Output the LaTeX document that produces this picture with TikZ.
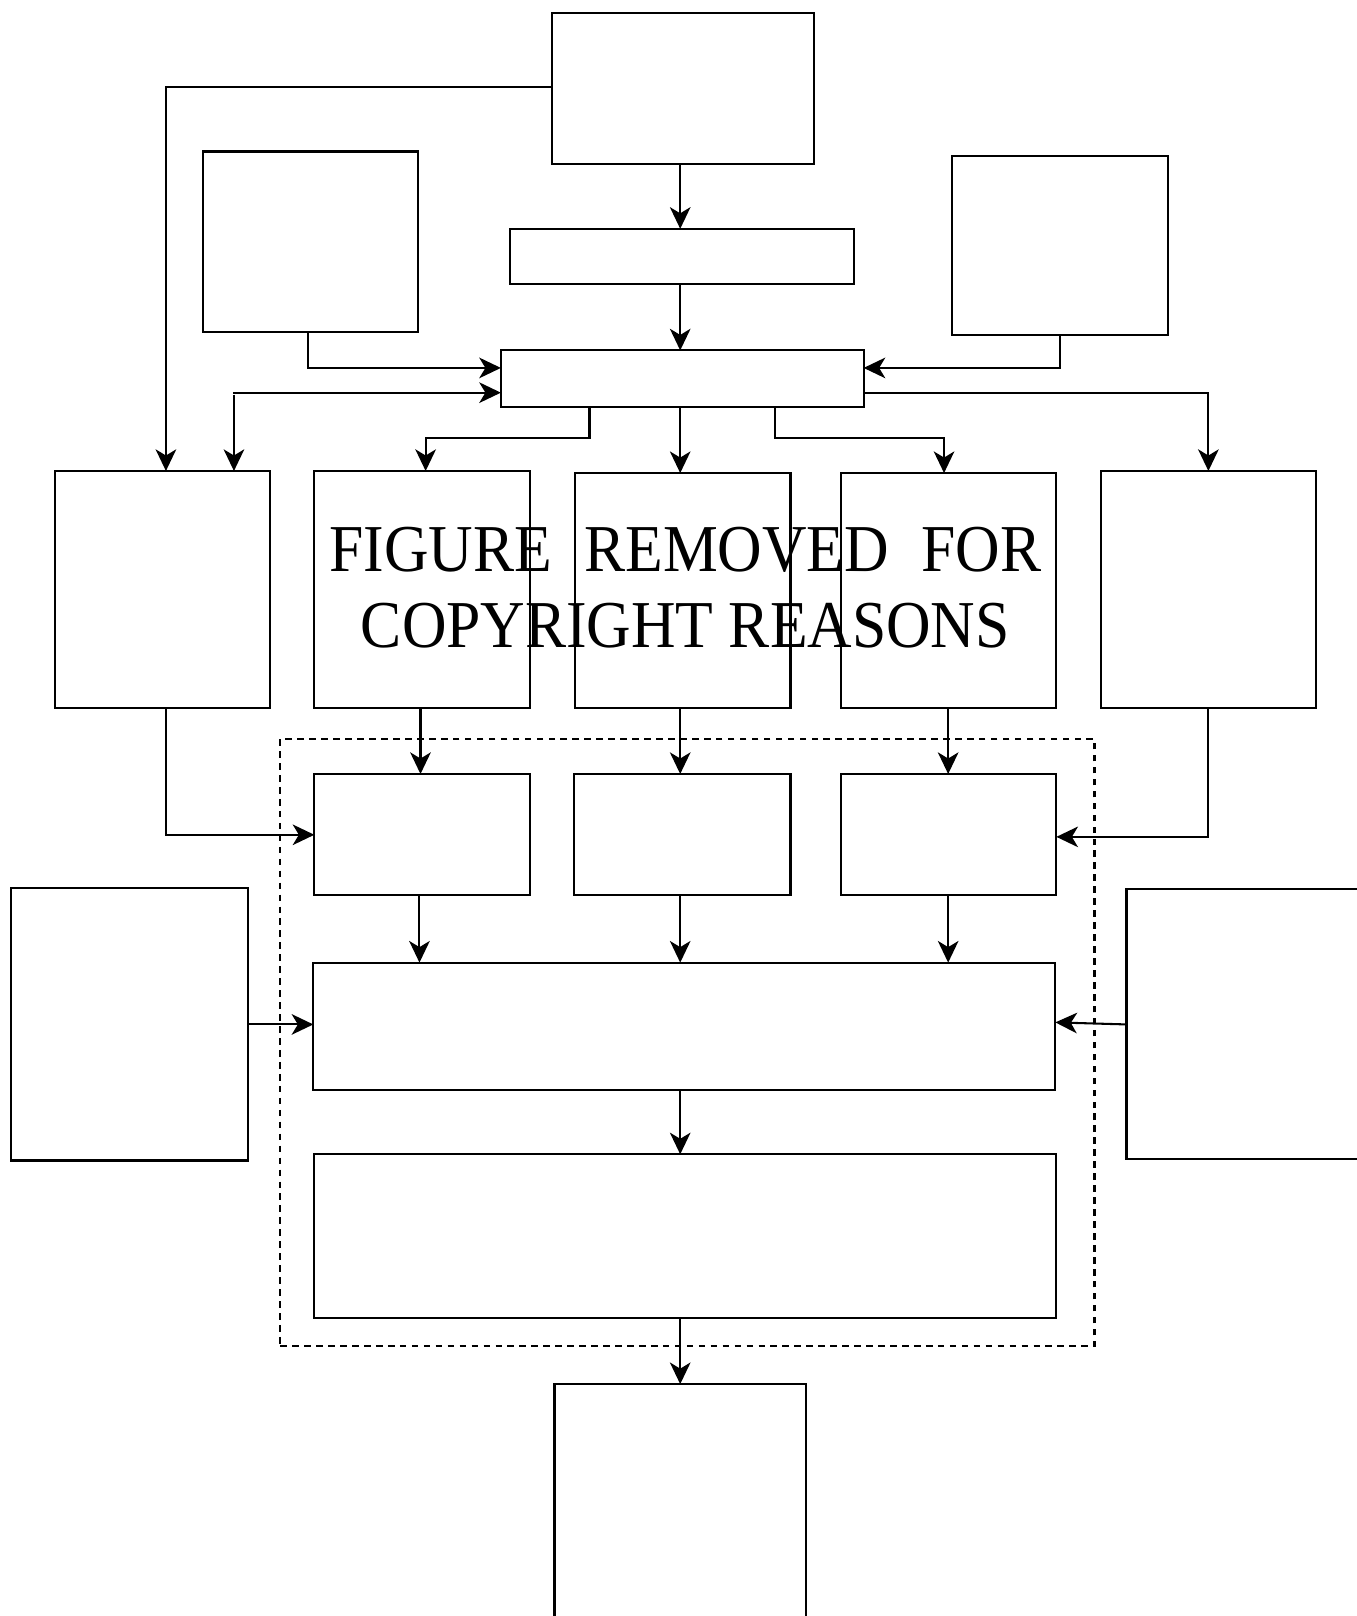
\documentclass[tikz,border=0pt]{standalone}
\usepackage{fontspec}
\usepackage{graphicx}
\setmainfont{Liberation Serif}
\usetikzlibrary{arrows.meta,calc}
\tikzset{
  box/.style={draw, line width=1pt, inner sep=0pt, outer sep=0pt},
  grpbox/.style={draw, line width=1pt, inner sep=0pt, outer sep=0pt, dash pattern=on 3.2pt off 2.6pt},
  conn/.style={line width=1pt},
  arr/.style={line width=1pt, -{Stealth[length=10.5pt,width=10pt,inset=3pt]}},
  bigtext/.style={font=\fontsize{32.5pt}{36pt}\selectfont, inner sep=0pt, anchor=base}
}
\newcommand\mybox[6][box]{\node[#1, minimum width={(#4-#2)*0.5pt}, minimum height={(#5-#3)*0.5pt}] (#6) at ({(#2+#4)/2},{(#3+#5)/2}) {};}
\begin{document}
\begin{tikzpicture}[x=0.5pt,y=-0.5pt]
\useasboundingbox (0,0) rectangle (1316,1568);
% helper coordinates
\foreach \xv in {161,227,299,407,408,413,572,660,752,916,920}{\coordinate (x\xv) at (\xv,0);}
\foreach \yv in {84,357,381,425,810,812,992}{\coordinate (y\yv) at (0,\yv);}
\coordinate (p226) at (226,381);
\coordinate (p227) at (227,383);
% boxes
\mybox{536}{13}{790}{159}{top}
\mybox{495}{222}{829}{276}{b2}
\mybox{197}{147}{406}{322}{LT}
\mybox{924}{151}{1133}{325}{RT}
\mybox{486}{340}{838}{395}{ctr}
\mybox{53}{457}{262}{687}{A}
\mybox{305}{457}{514}{687}{B}
\mybox{558}{459}{767}{687}{C}
\mybox{816}{459}{1025}{687}{D}
\mybox{1068}{457}{1277}{687}{E}
\mybox[grpbox]{272}{717}{1062}{1306}{grp}
\mybox{305}{751}{514}{868}{s1}
\mybox{557}{751}{767}{868}{s2}
\mybox{816}{751}{1025}{868}{s3}
\mybox{304}{934}{1024}{1058}{bg1}
\mybox{305}{1120}{1025}{1279}{bg2}
\mybox{11}{862}{241}{1126}{L}
\mybox{1093}{863}{1340}{1125}{R}
\mybox{538}{1343}{782}{1600}{bot}
% connectors
\draw[arr] (top.west |- y84) -| (x161 |- A.north);
\draw[arr] (x660 |- top.south) -- (x660 |- b2.north);
\draw[arr] (x660 |- b2.south) -- (x660 |- ctr.north);
\draw[arr] (x299 |- LT.south) |- (ctr.west |- y357);
\draw[arr] (RT.south) |- (ctr.east |- y357);
\draw[arr] (p226) -- (ctr.west |- y381);
\draw[arr] (p227) -- (x227 |- A.north);
\draw[arr] (ctr.east |- y381) -| (E.north);
\draw[arr] (x572 |- ctr.south) -- (x572 |- y425) -| (x413 |- B.north);
\draw[arr] (x660 |- ctr.south) -- (x660 |- C.north);
\draw[arr] (x752 |- ctr.south) -- (x752 |- y425) -| (x916 |- D.north);
\draw[arr] (x161 |- A.south) |- (s1.west |- y810);
\draw[arr] (x408 |- B.south) -- (x408 |- s1.north);
\draw[arr] (x660 |- C.south) -- (x660 |- s2.north);
\draw[arr] (x920 |- D.south) -- (x920 |- s3.north);
\draw[arr] (E.south) |- (s3.east |- y812);
\draw[arr] (x407 |- s1.south) -- (x407 |- bg1.north);
\draw[arr] (x660 |- s2.south) -- (x660 |- bg1.north);
\draw[arr] (x920 |- s3.south) -- (x920 |- bg1.north);
\draw[arr] (L.east) -- (bg1.west |- L.east);
\draw[arr] (R.west) -- (bg1.east |- y992);
\draw[arr] (x660 |- bg1.south) -- (x660 |- bg2.north);
\draw[arr] (x660 |- bg2.south) -- (x660 |- bot.north);
% text
\node[bigtext] (t1) at (665,555) {\scalebox{0.92}[1]{FIGURE\hspace{17pt}REMOVED\hspace{17pt}FOR}};
\node[bigtext] (t2) at (665,628) {\scalebox{0.92}[1]{COPYRIGHT REASONS}};
\end{tikzpicture}
\end{document}
